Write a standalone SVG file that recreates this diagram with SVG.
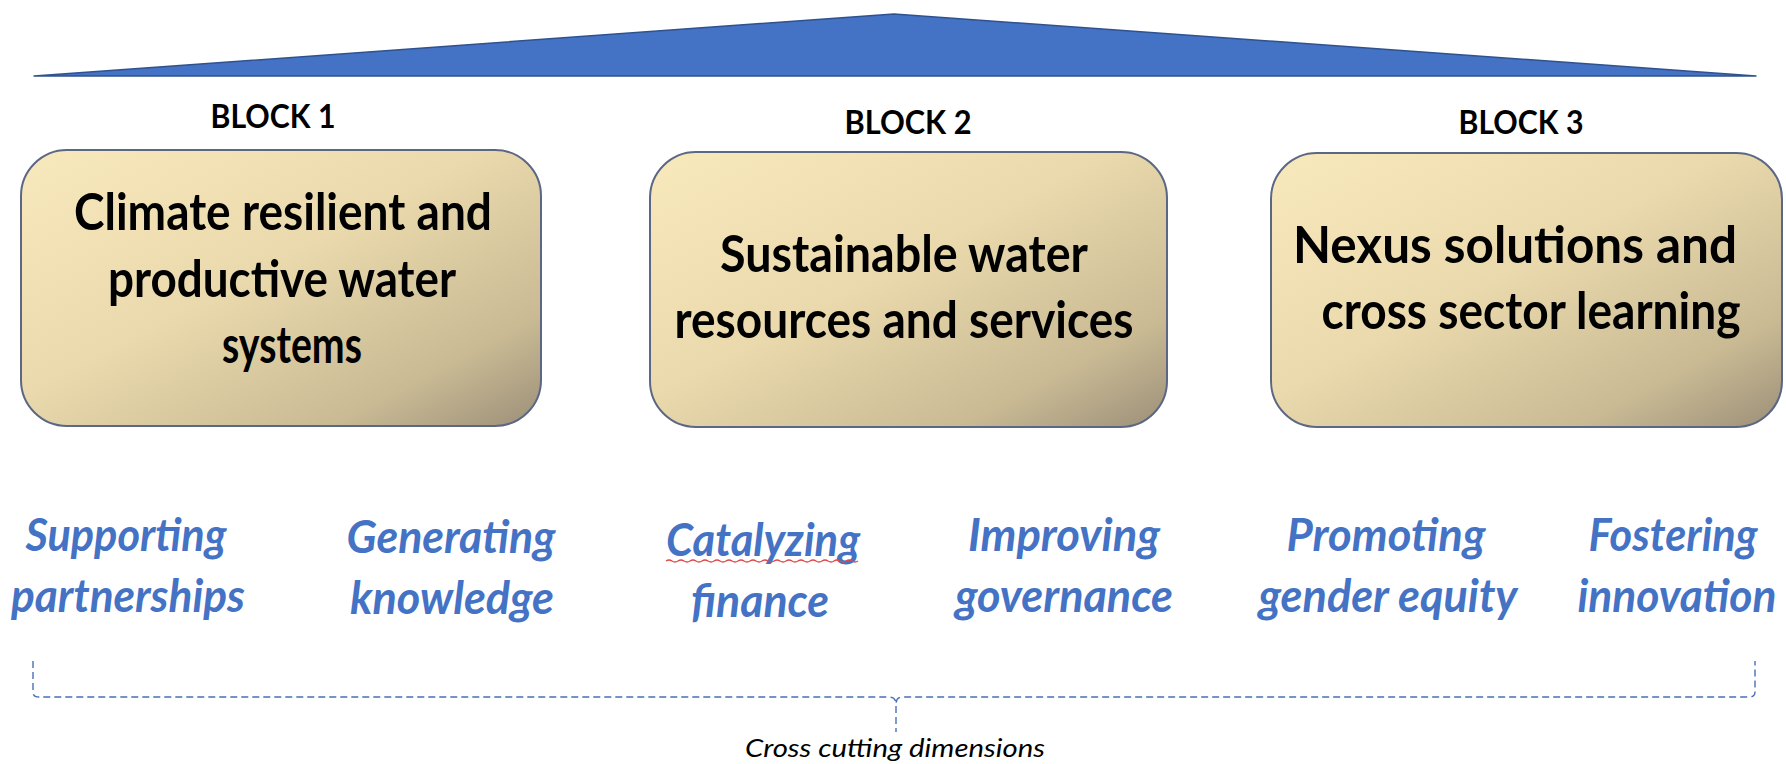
<svg xmlns="http://www.w3.org/2000/svg" width="1786" height="764" viewBox="0 0 1786 764">
<style>
.blk{font-family:Lato,"Open Sans","Liberation Sans",sans-serif;font-weight:bold;font-size:32px;fill:#000;text-anchor:middle}
.box{stroke:#5B6784;stroke-width:2;fill:url(#gold)}
.bt{font-family:Lato,"Open Sans","Liberation Sans",sans-serif;font-weight:bold;font-size:51px;fill:#000;text-anchor:middle}
.lab{font-family:Lato,"Open Sans","Liberation Sans",sans-serif;font-weight:bold;font-style:italic;font-size:45px;fill:#4472C4;text-anchor:middle}
.cc{font-family:Lato,"Open Sans","Liberation Sans",sans-serif;font-style:italic;font-size:25px;fill:#000;text-anchor:middle}
.dash{fill:none;stroke:#4A6FB8;stroke-width:1.4;stroke-dasharray:7 4}
</style>
<defs>
<linearGradient id="gold" x1="0" y1="0" x2="1" y2="1">
<stop offset="0" stop-color="#F8E9BC"/>
<stop offset="0.45" stop-color="#EAD9AC"/>
<stop offset="0.8" stop-color="#C9BA94"/>
<stop offset="1" stop-color="#9C8F78"/>
</linearGradient>
</defs>
<g id="roof">
<polygon points="34,76 894,14 1756,76" fill="#4472C4" stroke="#2F528F" stroke-width="1.5" stroke-linejoin="round"/>
</g>
<g id="block1">
<text class="blk" x="273" y="128" textLength="125" lengthAdjust="spacingAndGlyphs">BLOCK 1</text>
<rect class="box" x="21" y="150" width="520" height="276" rx="46"/>
<text class="bt" x="283" y="230" textLength="418" lengthAdjust="spacingAndGlyphs">Climate resilient and</text>
<text class="bt" x="282" y="297" textLength="348" lengthAdjust="spacingAndGlyphs">productive water</text>
<text class="bt" x="292" y="363" textLength="140" lengthAdjust="spacingAndGlyphs">systems</text>
</g>
<g id="block2">
<text class="blk" x="908" y="134" textLength="127" lengthAdjust="spacingAndGlyphs">BLOCK 2</text>
<rect class="box" x="650" y="152" width="517" height="275" rx="46"/>
<text class="bt" x="904" y="272" textLength="368" lengthAdjust="spacingAndGlyphs">Sustainable water</text>
<text class="bt" x="904" y="338" textLength="459" lengthAdjust="spacingAndGlyphs">resources and services</text>
</g>
<g id="block3">
<text class="blk" x="1521" y="134" textLength="125" lengthAdjust="spacingAndGlyphs">BLOCK 3</text>
<rect class="box" x="1271" y="153" width="511" height="274" rx="46"/>
<text class="bt" x="1515" y="263" textLength="444" lengthAdjust="spacingAndGlyphs">Nexus solutions and</text>
<text class="bt" x="1531" y="329" textLength="419" lengthAdjust="spacingAndGlyphs">cross sector learning</text>
</g>
<g id="dim1">
<text class="lab" x="126" y="551" textLength="201" lengthAdjust="spacingAndGlyphs">Supporting</text>
<text class="lab" x="128" y="612" textLength="234" lengthAdjust="spacingAndGlyphs">partnerships</text>
</g>
<g id="dim2">
<text class="lab" x="451" y="553" textLength="209" lengthAdjust="spacingAndGlyphs">Generating</text>
<text class="lab" x="452" y="614" textLength="204" lengthAdjust="spacingAndGlyphs">knowledge</text>
</g>
<g id="dim3">
<text class="lab" x="763" y="556" textLength="194" lengthAdjust="spacingAndGlyphs">Catalyzing</text>
<path d="M666,561 q3,-2 6,0 t6,0 t6,0 t6,0 t6,0 t6,0 t6,0 t6,0 t6,0 t6,0 t6,0 t6,0 t6,0 t6,0 t6,0 t6,0 t6,0 t6,0 t6,0 t6,0 t6,0 t6,0 t6,0 t6,0 t6,0 t6,0 t6,0 t6,0 t6,0 t6,0 t6,0 t6,0" fill="none" stroke="#E04848" stroke-width="1.3"/>
<text class="lab" x="760" y="617" textLength="138" lengthAdjust="spacingAndGlyphs">finance</text>
</g>
<g id="dim4">
<text class="lab" x="1064" y="551" textLength="192" lengthAdjust="spacingAndGlyphs">Improving</text>
<text class="lab" x="1064" y="612" textLength="218" lengthAdjust="spacingAndGlyphs">governance</text>
</g>
<g id="dim5">
<text class="lab" x="1386" y="551" textLength="199" lengthAdjust="spacingAndGlyphs">Promoting</text>
<text class="lab" x="1388" y="612" textLength="259" lengthAdjust="spacingAndGlyphs">gender equity</text>
</g>
<g id="dim6">
<text class="lab" x="1673" y="551" textLength="169" lengthAdjust="spacingAndGlyphs">Fostering</text>
<text class="lab" x="1677" y="612" textLength="199" lengthAdjust="spacingAndGlyphs">innovation</text>
</g>
<g id="connectors">
<path class="dash" d="M33,661 L33,692 Q33,697 39,697 L889,697 Q896,697 896,704 Q896,697 903,697 L1749,697 Q1755,697 1755,692 L1755,661"/>
<path class="dash" d="M896,706 L896,732"/>
</g>
<g id="caption">
<text class="cc" x="895" y="757" textLength="300" lengthAdjust="spacingAndGlyphs">Cross cutting dimensions</text>
</g>
</svg>
